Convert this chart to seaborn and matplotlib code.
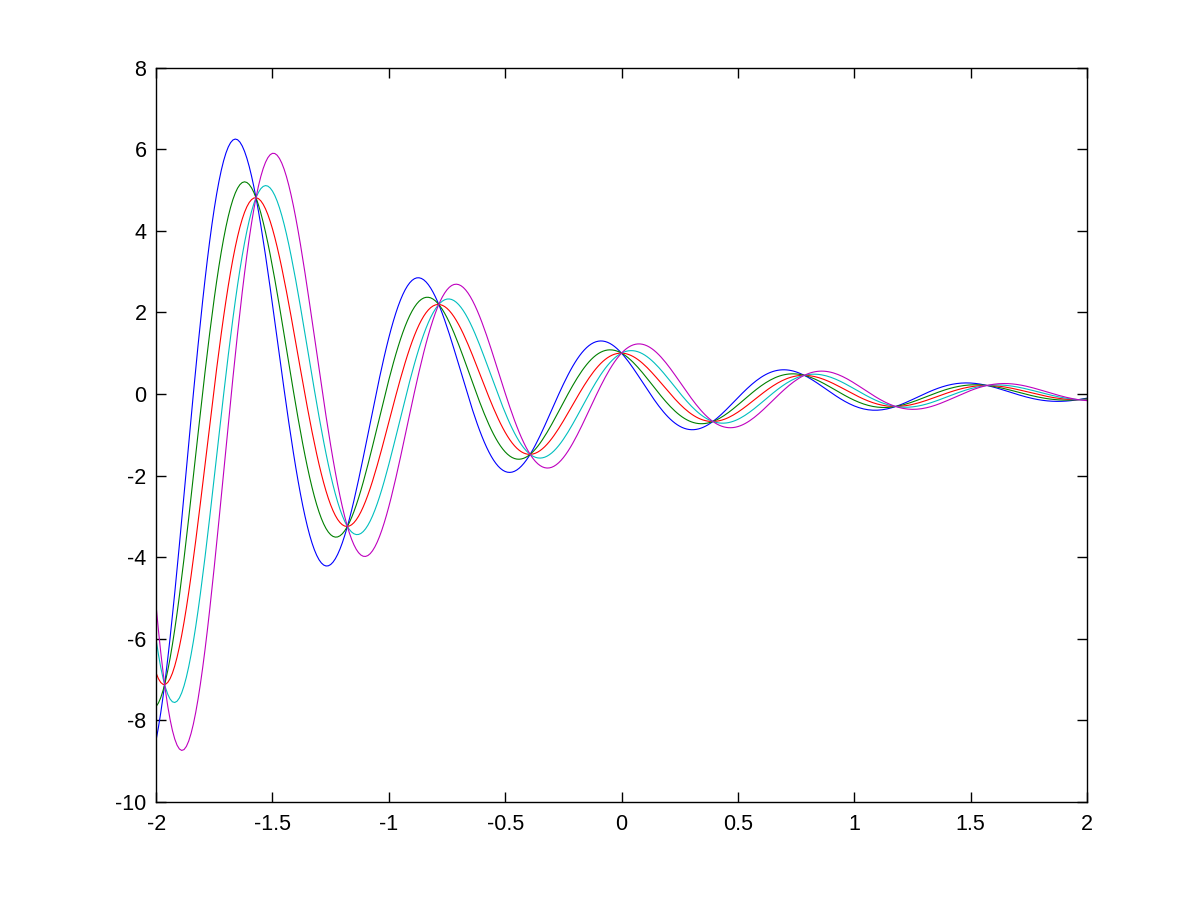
import numpy as np
import pandas as pd
import matplotlib
matplotlib.use("Agg")
import matplotlib.pyplot as plt
import seaborn as sns

# ---- data ----
# family of damped oscillations y = exp(-x) * (cos(8x) + a*sin(8x)),
# all passing through common nodes; sin-coefficients estimated from peaks/troughs
series_names = ["blue", "green", "red", "cyan", "magenta"]
sin_coef = [-0.66, -0.275, 0.11, 0.495, 0.88]
angular_freq = 8.0
x_range = [-2.0, 2.0]
n_samples = 401

x_ticks = [-2, -1.5, -1, -0.5, 0, 0.5, 1, 1.5, 2]
x_tick_labels = ["-2", "-1.5", "-1", "-0.5", "0", "0.5", "1", "1.5", "2"]
y_ticks = [-10, -8, -6, -4, -2, 0, 2, 4, 6, 8]
y_tick_labels = ["-10", "-8", "-6", "-4", "-2", "0", "2", "4", "6", "8"]

line_colors = ["#0000ff", "#008000", "#ff0000", "#00bfbf", "#bf00bf"]

# ---- build long-form table ----
x = np.linspace(x_range[0], x_range[1], n_samples)
frames = []
for name, a in zip(series_names, sin_coef):
    y = np.exp(-x) * (np.cos(angular_freq * x) + a * np.sin(angular_freq * x))
    frames.append(pd.DataFrame({"x": x, "y": y, "series": name}))
df = pd.concat(frames, ignore_index=True)

sns.set_style("ticks")
plt.rcParams["font.family"] = ["Liberation Sans", "DejaVu Sans"]

fig = plt.figure(figsize=(12.01, 9.01), dpi=100)
ax = fig.add_axes([0.13, 0.11, 0.775, 0.815])

sns.lineplot(data=df, x="x", y="y", hue="series", hue_order=series_names,
             palette=line_colors, estimator=None, sort=False, linewidth=0.8,
             legend=False, ax=ax)

ax.set_xlim(-2, 2)
ax.set_ylim(-10, 8)
ax.set_xticks(x_ticks)
ax.set_xticklabels(x_tick_labels)
ax.set_yticks(y_ticks)
ax.set_yticklabels(y_tick_labels)
ax.set_xlabel("")
ax.set_ylabel("")

for side in ["top", "right", "left", "bottom"]:
    ax.spines[side].set_visible(True)
    ax.spines[side].set_color("black")
    ax.spines[side].set_linewidth(1.0)

ax.tick_params(axis="both", direction="in", length=7, width=1.0, color="black",
               labelsize=15.5, labelcolor="black", top=True, right=True)
ax.tick_params(axis="x", pad=9)
ax.tick_params(axis="y", pad=7)
ax.set_facecolor("white")
fig.patch.set_facecolor("white")

fig.savefig("out.png", dpi=100, facecolor="white")
